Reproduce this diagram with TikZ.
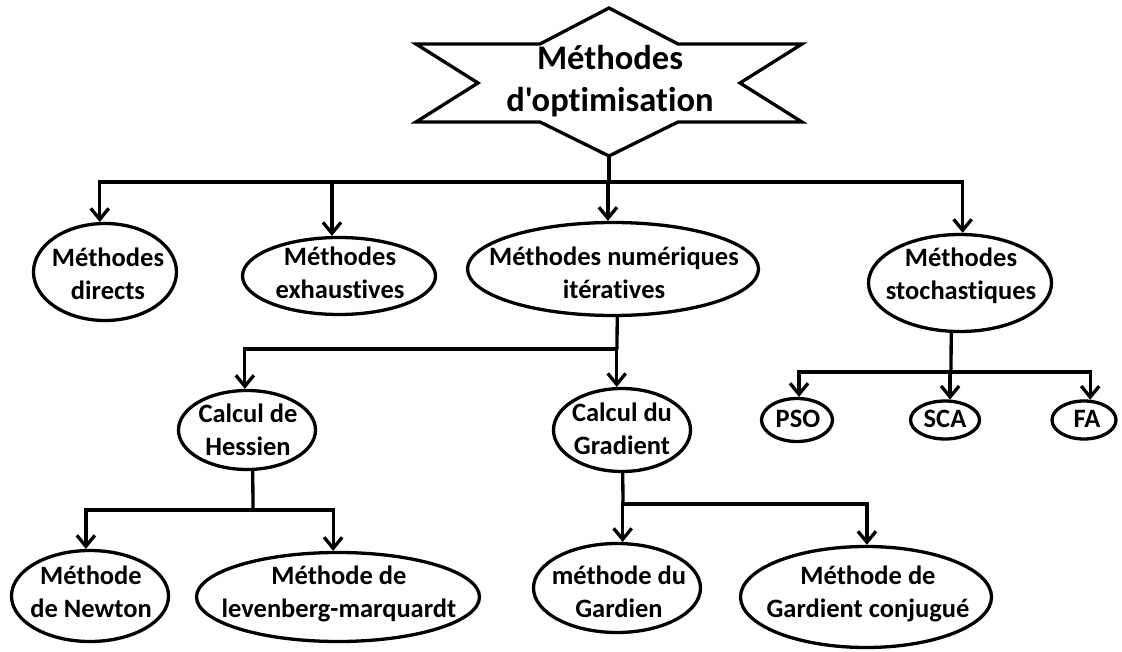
\documentclass[tikz,border=0pt]{standalone}
\usepackage{fontspec}
\setmainfont{Carlito}[Ligatures={TeXOff,NoCommon}]
\usetikzlibrary{shapes.geometric,arrows.meta}
\begin{document}
\begin{tikzpicture}[x=1pt,y=-1pt,
  link/.style={line width=3.3pt},
  arr/.style={link, -{Straight Barb[length=11pt,width=18pt]}},
  oval/.style={ellipse, draw, line width=3.3pt, inner sep=0pt},
  % labels are placed by the baseline of their last line
  lbl/.style={align=center, anchor=base, inner sep=0pt,
    font=\bfseries\fontsize{26.5}{33}\selectfont},
]
\useasboundingbox (0,0) rectangle (1122,652);

% title banner
\draw[link, line join=miter] (609,8) -- (540,44) -- (416,44) -- (478,83)
  -- (416,122) -- (540,122) -- (609,156) -- (678,122) -- (802,122)
  -- (740,83) -- (802,44) -- (678,44) -- cycle;
\coordinate (tb) at (609,156);
\node[align=center, anchor=base, inner sep=0pt,
  font=\bfseries\fontsize{34.5}{42}\selectfont] (title) at (610,112)
  {Méthodes\\d'optimisation};

% first level
\node[oval, minimum width=143pt, minimum height=97pt] (dir) at (105,272) {};
\node[lbl] (dirT) at (108,300) {Méthodes\\directs};
\node[oval, minimum width=193pt, minimum height=77pt] (exh) at (339,276) {};
\node[lbl] (exhT) at (340,299) {Méthodes\\exhaustives};
\node[oval, minimum width=291pt, minimum height=93pt] (num) at (613,269) {};
\node[lbl] (numT) at (614,299) {Méthodes numériques\\itératives};
\node[oval, minimum width=183pt, minimum height=97pt] (sto) at (960,283) {};
\node[lbl] (stoT) at (961,300) {Méthodes\\stochastiques};

% second level
\node[oval, minimum width=137pt, minimum height=79pt] (hes) at (247,430) {};
\node[lbl] (hesT) at (248,455) {Calcul de\\Hessien};
\node[oval, minimum width=137pt, minimum height=83pt] (grad) at (622,430) {};
\node[lbl] (gradT) at (622,454) {Calcul du\\Gradient};
\node[oval, minimum width=71pt, minimum height=43pt] (pso) at (797,420) {};
\node[lbl] (psoT) at (798,427) {PSO};
\node[oval, minimum width=69pt, minimum height=38pt] (sca) at (945,420) {};
\node[lbl] (scaT) at (945,427) {SCA};
\node[oval, minimum width=64pt, minimum height=38pt] (fa) at (1084,420) {};
\node[lbl] (faT) at (1087,427) {FA};

% third level
\node[oval, minimum width=157pt, minimum height=91pt] (newt) at (90,596) {};
\node[lbl] (newtT) at (91,617) {Méthode\\de Newton};
\node[oval, minimum width=283pt, minimum height=89pt] (lev) at (338,597) {};
\node[lbl] (levT) at (339,617) {Méthode de\\levenberg-marquardt};
\node[oval, minimum width=167pt, minimum height=89pt] (gard) at (617,588) {};
\node[lbl] (gardT) at (619,617) {méthode du\\Gardien};
\node[oval, minimum width=251pt, minimum height=101pt] (conj) at (866,597) {};
\node[lbl] (conjT) at (868,617) {Méthode de\\Gardient conjugué};

% junctions
\coordinate (j0) at (609,182);
\coordinate (jn) at (617,349);
\coordinate (jh) at (253,510);
\coordinate (jg) at (623,504);
\coordinate (js) at (951,372);

% connectors
\draw[link] (tb) -- (j0);
\draw[arr] (j0) -| (dir.96);
\draw[arr] (j0) -| (exh.100);
\draw[arr] (j0) -| (num.96);
\draw[arr] (j0) -| (sto.87);

\draw[link] (num.275) -- (jn);
\draw[arr] (jn) -| (hes.93);
\draw[arr] (jn) -| (grad.97);

\draw[link] (sto.260) -- (js);
\draw[arr] (js) -| (pso.85);
\draw[arr] (js) -| (sca.76);
\draw[arr] (js) -| (fa.73);

\draw[link] (hes.278) -- (jh);
\draw[arr] (jh) -| (newt.95);
\draw[arr] (jh) -| (lev.96);

\draw[link] (grad.271) -- (jg);
\draw[arr] (jg) -| (gard.83);
\draw[arr] (jg) -| (conj.89);
\end{tikzpicture}
\end{document}
